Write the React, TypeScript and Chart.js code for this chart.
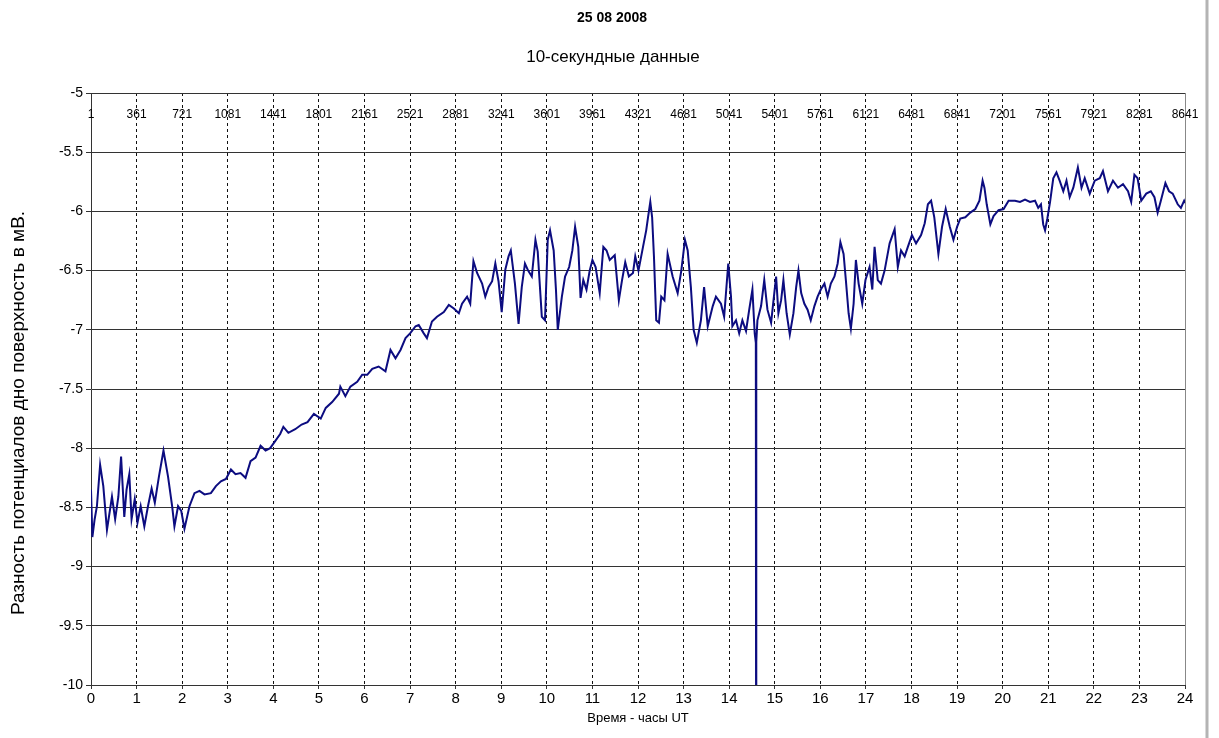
import React, { useEffect, useRef } from "react";
import { Chart, registerables } from "chart.js";

Chart.register(...registerables);

const titleText = "25 08 2008";
const subtitleText = "10-секундные данные";
const yTitle = "Разность потенциалов дно поверхность в мВ.";
const xTitle = "Время - часы UT";

const topIndexLabels = [
  "1", "361", "721", "1081", "1441", "1801", "2161", "2521", "2881", "3241", "3601", "3961",
  "4321", "4681", "5041", "5401", "5761", "6121", "6481", "6841", "7201", "7561", "7921", "8281", "8641",
];

const hours = [
  0.0, 0.03, 0.08, 0.13, 0.2, 0.27, 0.35, 0.46, 0.53, 0.6, 0.66, 0.73, 0.78, 0.84, 0.89, 0.96,
  1.02, 1.09, 1.17, 1.25, 1.33, 1.4, 1.49, 1.59, 1.69, 1.78, 1.83, 1.91, 1.98,
  2.05, 2.16, 2.27, 2.38, 2.49, 2.63, 2.74, 2.85, 2.96,
  3.07, 3.17, 3.28, 3.39, 3.5, 3.61, 3.72, 3.83, 3.93,
  4.04, 4.15, 4.22, 4.33, 4.48, 4.62, 4.75, 4.89,
  5.04, 5.15, 5.29, 5.44, 5.47, 5.58, 5.69, 5.84, 5.95,
  6.06, 6.17, 6.31, 6.46, 6.57, 6.68, 6.79, 6.9,
  7.0, 7.12, 7.19, 7.3, 7.37, 7.48, 7.59, 7.74, 7.85, 7.96,
  8.07, 8.14, 8.25, 8.32, 8.39, 8.47, 8.58, 8.65, 8.72, 8.8, 8.87, 8.94,
  9.01, 9.09, 9.16, 9.21, 9.3, 9.38, 9.45, 9.52, 9.59, 9.67, 9.75, 9.8, 9.89, 9.96,
  10.02, 10.07, 10.15, 10.2, 10.24, 10.33, 10.4, 10.49, 10.56, 10.62, 10.69, 10.74, 10.8, 10.87, 10.94,
  11.0, 11.07, 11.16, 11.24, 11.31, 11.38, 11.49, 11.58, 11.65, 11.72, 11.8, 11.89, 11.94,
  12.01, 12.11, 12.18, 12.22, 12.27, 12.31, 12.35, 12.4, 12.46, 12.51, 12.58, 12.65, 12.76, 12.87, 12.95,
  13.03, 13.09, 13.16, 13.22, 13.29, 13.38, 13.45, 13.53, 13.64, 13.71, 13.82, 13.89, 13.98,
  14.04, 14.07, 14.15, 14.22, 14.29, 14.37, 14.44, 14.51, 14.56, 14.585, 14.59, 14.595, 14.62, 14.7, 14.77, 14.84, 14.92, 14.99,
  15.03, 15.08, 15.14, 15.19, 15.26, 15.33, 15.41, 15.47, 15.52, 15.58, 15.65, 15.72, 15.79, 15.87, 15.94,
  16.01, 16.09, 16.16, 16.23, 16.31, 16.38, 16.44, 16.51, 16.56, 16.62, 16.67, 16.73, 16.78, 16.84, 16.92, 16.99,
  17.08, 17.14, 17.19, 17.26, 17.33, 17.41, 17.52, 17.63, 17.7, 17.77, 17.85, 17.92,
  18.01, 18.1, 18.21, 18.29, 18.36, 18.43, 18.5, 18.59, 18.67, 18.75, 18.84, 18.92,
  19.0, 19.07, 19.18, 19.29, 19.4, 19.49, 19.56, 19.6, 19.65, 19.73, 19.8, 19.91,
  20.02, 20.13, 20.27, 20.38, 20.49, 20.6, 20.71, 20.78, 20.84, 20.89, 20.93, 20.98,
  21.04, 21.11, 21.18, 21.25, 21.33, 21.4, 21.47, 21.55, 21.65, 21.73, 21.8, 21.91,
  22.02, 22.13, 22.2, 22.31, 22.42, 22.53, 22.64, 22.75, 22.82, 22.89, 22.96,
  23.04, 23.15, 23.25, 23.33, 23.4, 23.47, 23.57, 23.65, 23.73, 23.84, 23.91, 23.98, 24.0,
];

const values = [
  -8.35, -8.75, -8.6, -8.49, -8.14, -8.32, -8.69, -8.41, -8.6, -8.41, -8.07, -8.58, -8.35, -8.22, -8.6, -8.43,
  -8.63, -8.49, -8.66, -8.49, -8.34, -8.46, -8.24, -8.02, -8.24, -8.49, -8.66, -8.49, -8.53,
  -8.68, -8.49, -8.38, -8.36, -8.39, -8.38, -8.32, -8.28, -8.26,
  -8.18, -8.22, -8.21, -8.25, -8.11, -8.08, -7.98, -8.02, -8.0,
  -7.94, -7.88, -7.82, -7.87, -7.84, -7.8, -7.78, -7.71,
  -7.75, -7.66, -7.61, -7.54, -7.48, -7.56, -7.48, -7.44, -7.38,
  -7.38, -7.33, -7.31, -7.35, -7.17, -7.24, -7.17, -7.07,
  -7.03, -6.97, -6.96, -7.03, -7.07, -6.93, -6.89, -6.85, -6.79, -6.82,
  -6.86, -6.78, -6.72, -6.78, -6.42, -6.52, -6.61, -6.72, -6.64, -6.59, -6.44, -6.59,
  -6.85, -6.49, -6.38, -6.33, -6.61, -6.95, -6.64, -6.44, -6.5, -6.55, -6.24, -6.34, -6.89, -6.92,
  -6.24, -6.16, -6.33, -6.66, -7.0, -6.72, -6.55, -6.47, -6.33, -6.13, -6.3, -6.73, -6.58, -6.66, -6.5,
  -6.41, -6.47, -6.69, -6.3, -6.33, -6.41, -6.37, -6.75, -6.58, -6.43, -6.55, -6.52, -6.38,
  -6.5, -6.3, -6.16, -6.05, -5.92, -6.05, -6.38, -6.92, -6.94, -6.72, -6.75, -6.36, -6.55, -6.69, -6.5,
  -6.24, -6.33, -6.64, -7.0, -7.11, -6.92, -6.64, -6.97, -6.8, -6.72, -6.78, -6.89, -6.44,
  -6.72, -6.97, -6.92, -7.03, -6.92, -7.01, -6.83, -6.66, -7.03, -7.11, -10.0, -7.1, -6.92, -6.8, -6.58, -6.83, -6.94, -6.69,
  -6.55, -6.86, -6.75, -6.58, -6.86, -7.04, -6.86, -6.64, -6.5, -6.69, -6.78, -6.83, -6.92, -6.8, -6.72,
  -6.66, -6.61, -6.72, -6.61, -6.55, -6.44, -6.26, -6.36, -6.58, -6.86, -6.99, -6.78, -6.41, -6.61, -6.78, -6.58,
  -6.47, -6.66, -6.3, -6.58, -6.61, -6.5, -6.27, -6.15, -6.47, -6.33, -6.38, -6.3,
  -6.2, -6.27, -6.2, -6.1, -5.94, -5.91, -6.05, -6.36, -6.13, -5.98, -6.13, -6.24,
  -6.13, -6.06, -6.05, -6.01, -5.98, -5.91, -5.74, -5.8, -5.94, -6.11, -6.04, -5.99,
  -5.98, -5.91, -5.91, -5.92, -5.9, -5.92, -5.91, -5.97, -5.94, -6.11, -6.16, -6.06,
  -5.92, -5.72, -5.67, -5.74, -5.83, -5.74, -5.88, -5.8, -5.63, -5.8, -5.72, -5.85,
  -5.74, -5.72, -5.66, -5.83, -5.74, -5.8, -5.77, -5.83, -5.92, -5.69, -5.72,
  -5.91, -5.85, -5.83, -5.88, -6.01, -5.91, -5.76, -5.83, -5.85, -5.94, -5.97, -5.91, -5.93,
];

const FONT = "Arial, 'Liberation Sans', sans-serif";

const overlayPlugin = {
  id: "overlay",
  afterDraw(chart: any) {
    const { ctx, chartArea } = chart;
    const xs = chart.scales.x;
    ctx.save();
    // right border of plot and outer frame
    ctx.strokeStyle = "#888888";
    ctx.lineWidth = 1;
    ctx.beginPath();
    ctx.moveTo(chartArea.right + 0.5, chartArea.top);
    ctx.lineTo(chartArea.right + 0.5, chartArea.bottom);
    ctx.stroke();
    ctx.strokeStyle = "#b4b4b4";
    ctx.lineWidth = 3;
    ctx.beginPath();
    ctx.moveTo(1207, 0);
    ctx.lineTo(1207, chart.height);
    ctx.stroke();
    ctx.fillStyle = "#000";
    ctx.textAlign = "center";
    ctx.textBaseline = "middle";
    // titles
    ctx.font = `bold 14px ${FONT}`;
    ctx.fillText(titleText, 612, 18);
    ctx.font = `17px ${FONT}`;
    ctx.fillText(subtitleText, 613, 57);
    // top index labels
    ctx.font = `12px ${FONT}`;
    topIndexLabels.forEach((lab, i) => {
      const x = xs.getPixelForValue(i);
      ctx.fillText(lab, x, chartArea.top + 22);
    });
    // y axis title
    ctx.font = `19px ${FONT}`;
    ctx.translate(19, 413);
    ctx.rotate(-Math.PI / 2);
    ctx.fillText(yTitle, 0, 0);
    ctx.restore();
  },
};

export default function App() {
  const ref = useRef<HTMLCanvasElement | null>(null);
  useEffect(() => {
    if (!ref.current) return;
    const data = hours.map((h, i) => ({ x: h, y: values[i] }));
    const chart = new Chart(ref.current, {
      type: "line",
      data: {
        datasets: [
          {
            data,
            borderColor: "#0c0c80",
            borderWidth: 2,
            pointRadius: 0,
            tension: 0,
            fill: false,
          },
        ],
      },
      options: {
        animation: false,
        responsive: false,
        devicePixelRatio: 1,
        layout: { padding: { top: 93, right: 34, bottom: 0, left: 0 } },
        plugins: {
          legend: { display: false },
          tooltip: { enabled: false },
          title: { display: false },
        },
        scales: {
          x: {
            type: "linear",
            min: 0,
            max: 24,
            ticks: {
              stepSize: 1,
              color: "#000",
              font: { family: FONT, size: 15 },
              padding: 1,
              maxRotation: 0,
              autoSkip: false,
              callback: (v: any) => String(v),
            },
            grid: {
              color: (c: any) =>
                c.tick && (c.tick.value === 0 || c.tick.value === 24) ? "rgba(0,0,0,0)" : "#111",
              lineWidth: 1,
              tickColor: "#333",
              tickLength: 4,
            },
            border: { display: true, color: "#333", width: 1, dash: [3, 3] },
            title: {
              display: true,
              text: xTitle,
              color: "#000",
              font: { family: FONT, size: 13 },
              padding: { top: 0, bottom: 12 },
            },
            afterFit: (s: any) => {
              s.height = 53;
              s.paddingLeft = 0;
              s.paddingRight = 0;
            },
          },
          y: {
            type: "linear",
            min: -10,
            max: -5,
            ticks: {
              stepSize: 0.5,
              color: "#000",
              font: { family: FONT, size: 14 },
              padding: 3,
              callback: (v: any) => String(v),
            },
            grid: {
              color: "#333",
              lineWidth: 1,
              tickColor: "#333",
              tickLength: 5,
            },
            border: { display: true, color: "#333", width: 1 },
            afterFit: (s: any) => {
              s.width = 91;
              s.paddingTop = 0;
              s.paddingBottom = 0;
            },
          },
        },
      },
      plugins: [overlayPlugin],
    } as any);
    return () => chart.destroy();
  }, []);
  return (
    <div style={{ position: "fixed", left: 0, top: 0, width: 1219, height: 738, background: "#fff" }}>
      <canvas ref={ref} width={1219} height={738} style={{ width: 1219, height: 738, display: "block" }} />
    </div>
  );
}
